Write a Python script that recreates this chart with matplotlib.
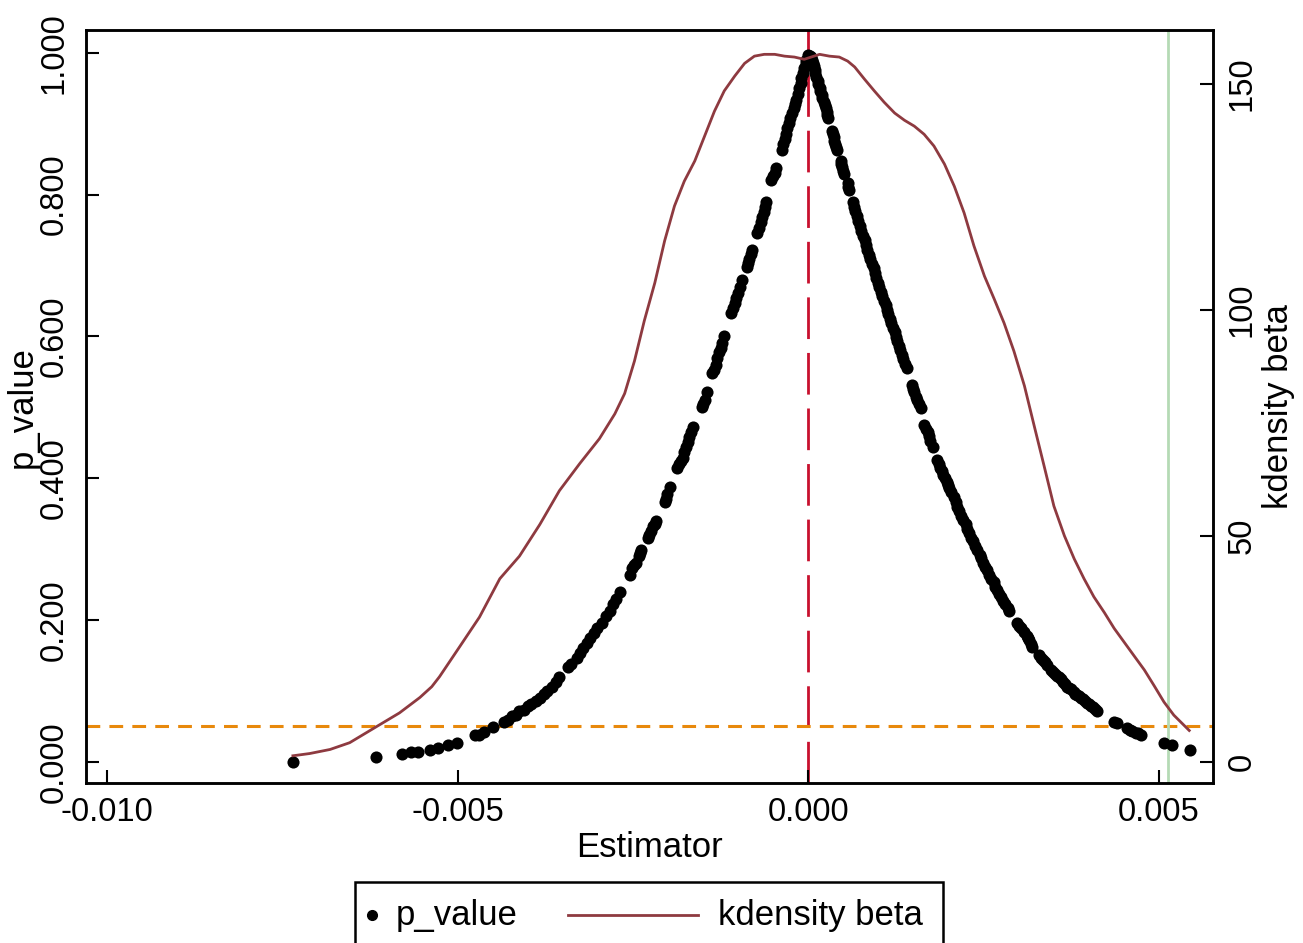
import numpy as np
import matplotlib
matplotlib.use("Agg")
import matplotlib.pyplot as plt
from matplotlib.lines import Line2D
from matplotlib.patches import Rectangle

plt.rcParams['font.family'] = ['Liberation Sans', 'DejaVu Sans']

# placebo estimates and their p-values
beta = [
    -0.00735, -0.00617, -0.00580, -0.00566, -0.00557, -0.00540, -0.00528, -0.00514, -0.00501,
    -0.00476, -0.00470, -0.00462, -0.00449,
    -0.00434, -0.00429, -0.00423, -0.00417, -0.00412, -0.00406, -0.00400, -0.00395, -0.00389,
    -0.00383, -0.00377, -0.00372, -0.00366, -0.00360, -0.00355,
    -0.00343, -0.00339, -0.00330, -0.00326, -0.00321, -0.00316, -0.00311, -0.00306, -0.00302,
    -0.00295, -0.00289, -0.00283, -0.00279, -0.00274, -0.00269,
    -0.00255, -0.00251, -0.00248, -0.00246, -0.00242, -0.00240, -0.00238,
    -0.00229, -0.00227, -0.00225, -0.00221, -0.00219, -0.00217,
    -0.00205, -0.00203, -0.00201, -0.00198,
    -0.00187, -0.00184, -0.00182, -0.00179, -0.00177, -0.00175, -0.00172, -0.00170, -0.00167, -0.00165,
    -0.00152, -0.00150, -0.00148, -0.00145,
    -0.00137, -0.00135, -0.00132, -0.00130, -0.00127, -0.00125, -0.00123, -0.00120,
    -0.00110, -0.00108, -0.00105, -0.00103, -0.00101, -0.00098, -0.00095,
    -0.00088, -0.00086, -0.00084, -0.00082, -0.00080,
    -0.00073, -0.00071, -0.00068, -0.00066, -0.00064, -0.00062, -0.00060,
    -0.00053, -0.00050, -0.00048, -0.00046,
    -0.00038, -0.00036, -0.00034, -0.00032, -0.00030, -0.00028, -0.00026, -0.00023, -0.00021,
    -0.00019, -0.00017, -0.00015, -0.00013, -0.00011, -0.00010, -0.00008, -0.00006, -0.00004,
    -0.00003, 0.00000,
    0.00002, 0.00003, 0.00005, 0.00006, 0.00008, 0.00009, 0.00010, 0.00011, 0.00013, 0.00014,
    0.00016, 0.00017, 0.00019, 0.00020, 0.00022, 0.00023, 0.00025, 0.00026, 0.00027, 0.00028,
    0.00033, 0.00035, 0.00036, 0.00037, 0.00038, 0.00040, 0.00041,
    0.00046, 0.00047, 0.00048, 0.00050, 0.00051,
    0.00056, 0.00057, 0.00058,
    0.00063, 0.00065, 0.00067, 0.00069, 0.00071, 0.00073, 0.00075, 0.00078, 0.00080, 0.00082,
    0.00084, 0.00086, 0.00088, 0.00091, 0.00093, 0.00095, 0.00097, 0.00099, 0.00101,
    0.00103, 0.00105, 0.00108, 0.00110, 0.00112, 0.00114, 0.00116, 0.00118, 0.00121, 0.00123,
    0.00125, 0.00127, 0.00129, 0.00131, 0.00133, 0.00135, 0.00138, 0.00140,
    0.00147, 0.00149, 0.00151, 0.00153, 0.00155, 0.00158, 0.00160,
    0.00165, 0.00168, 0.00170, 0.00172, 0.00174, 0.00177,
    0.00184, 0.00186, 0.00188, 0.00190, 0.00192, 0.00195, 0.00197, 0.00199, 0.00201, 0.00204,
    0.00207, 0.00210, 0.00212, 0.00215, 0.00218, 0.00221, 0.00224, 0.00226, 0.00229,
    0.00232, 0.00235, 0.00238, 0.00241, 0.00244, 0.00246, 0.00249, 0.00252, 0.00255, 0.00258,
    0.00261, 0.00264, 0.00266, 0.00269, 0.00272, 0.00275, 0.00278, 0.00281, 0.00284, 0.00286,
    0.00298, 0.00300, 0.00303, 0.00307, 0.00311, 0.00313, 0.00315, 0.00317, 0.00319,
    0.00329, 0.00332, 0.00335, 0.00337, 0.00340,
    0.00346, 0.00349, 0.00352, 0.00355, 0.00358, 0.00360, 0.00363, 0.00366, 0.00369, 0.00372,
    0.00375, 0.00378, 0.00380, 0.00383, 0.00386, 0.00389, 0.00392, 0.00395, 0.00397, 0.00400,
    0.00403, 0.00406, 0.00409, 0.00412,
    0.00436, 0.00440,
    0.00454, 0.00458, 0.00462, 0.00467, 0.00470, 0.00474,
    0.00507, 0.00519, 0.00544,
]
p_value = [
    0.000, 0.006, 0.011, 0.013, 0.014, 0.017, 0.020, 0.024, 0.027,
    0.037, 0.038, 0.042, 0.049,
    0.056, 0.059, 0.064, 0.066, 0.071, 0.073, 0.078, 0.082, 0.086,
    0.090, 0.096, 0.100, 0.106, 0.113, 0.119,
    0.134, 0.138, 0.147, 0.154, 0.161, 0.167, 0.174, 0.181, 0.188,
    0.196, 0.205, 0.213, 0.222, 0.230, 0.239,
    0.263, 0.273, 0.277, 0.281, 0.290, 0.294, 0.298,
    0.316, 0.320, 0.325, 0.332, 0.336, 0.340,
    0.366, 0.371, 0.377, 0.387,
    0.415, 0.420, 0.424, 0.429, 0.437, 0.444, 0.451, 0.458, 0.465, 0.472,
    0.500, 0.505, 0.510, 0.521,
    0.548, 0.553, 0.559, 0.569, 0.578, 0.584, 0.590, 0.600,
    0.633, 0.640, 0.647, 0.654, 0.661, 0.670, 0.679,
    0.698, 0.703, 0.709, 0.716, 0.722,
    0.746, 0.753, 0.761, 0.768, 0.775, 0.782, 0.790,
    0.821, 0.826, 0.831, 0.838,
    0.863, 0.871, 0.879, 0.886, 0.894, 0.901, 0.908, 0.915, 0.922,
    0.928, 0.934, 0.942, 0.951, 0.958, 0.965, 0.972, 0.979, 0.985,
    0.990, 0.997,
    0.996, 0.994, 0.990, 0.986, 0.981, 0.976, 0.971, 0.966, 0.961, 0.956,
    0.951, 0.946, 0.941, 0.936, 0.931, 0.927, 0.922, 0.917, 0.912, 0.908,
    0.890, 0.885, 0.881, 0.876, 0.871, 0.867, 0.863,
    0.847, 0.843, 0.839, 0.834, 0.829,
    0.816, 0.811, 0.806,
    0.790, 0.783, 0.777, 0.770, 0.763, 0.756, 0.749, 0.742, 0.736, 0.729,
    0.722, 0.715, 0.709, 0.702, 0.696, 0.689, 0.682, 0.676, 0.669,
    0.663, 0.657, 0.650, 0.644, 0.637, 0.631, 0.625, 0.619, 0.612, 0.606,
    0.599, 0.593, 0.587, 0.581, 0.574, 0.568, 0.561, 0.555,
    0.531, 0.526, 0.521, 0.515, 0.510, 0.504, 0.499,
    0.475, 0.470, 0.465, 0.459, 0.453, 0.444,
    0.425, 0.420, 0.415, 0.410, 0.405, 0.400, 0.395, 0.390, 0.386, 0.380,
    0.373, 0.366, 0.360, 0.353, 0.347, 0.341, 0.335, 0.328, 0.322,
    0.316, 0.311, 0.304, 0.298, 0.292, 0.287, 0.281, 0.275, 0.270, 0.264,
    0.258, 0.253, 0.247, 0.242, 0.237, 0.232, 0.227, 0.222, 0.217, 0.213,
    0.196, 0.192, 0.188, 0.183, 0.178, 0.174, 0.171, 0.166, 0.162,
    0.150, 0.147, 0.144, 0.140, 0.137,
    0.130, 0.127, 0.124, 0.121, 0.119, 0.116, 0.113, 0.110, 0.106, 0.104,
    0.102, 0.099, 0.096, 0.094, 0.092, 0.090, 0.088, 0.085, 0.083, 0.081,
    0.079, 0.077, 0.075, 0.072,
    0.056, 0.055,
    0.047, 0.045, 0.044, 0.041, 0.040, 0.038,
    0.027, 0.024, 0.017,
]

# kernel density of the estimates
kd_x = [
    -0.00735, -0.00711, -0.00682, -0.00654, -0.00625, -0.00611, -0.00583, -0.00554, -0.00537,
    -0.00526, -0.00497, -0.00469, -0.00440, -0.00412, -0.00383, -0.00355, -0.00326, -0.00298,
    -0.00276, -0.00262, -0.00248, -0.00234, -0.00219, -0.00205, -0.00191, -0.00177, -0.00162,
    -0.00148, -0.00134, -0.00120, -0.00105, -0.00091, -0.00077, -0.00063, -0.00048, -0.00034,
    -0.00020, -0.00006, 0.00004, 0.00016, 0.00030, 0.00044, 0.00056, 0.00066, 0.00080,
    0.00094, 0.00108, 0.00123, 0.00137, 0.00151, 0.00165, 0.00179, 0.00194, 0.00208,
    0.00222, 0.00236, 0.00251, 0.00265, 0.00279, 0.00293, 0.00308, 0.00322, 0.00336,
    0.00350, 0.00365, 0.00379, 0.00393, 0.00407, 0.00422, 0.00436, 0.00450, 0.00464,
    0.00479, 0.00493, 0.00507, 0.00521, 0.00543,
]
kd_y = [
    1.3, 1.8, 2.7, 4.2, 6.9, 8.2, 10.8, 14.2, 16.6,
    18.8, 25.5, 32.0, 40.5, 45.5, 52.5, 60.0, 66.0, 71.5,
    77.0, 81.5, 88.7, 97.6, 106.0, 115.3, 123.0, 128.5, 133.0,
    138.5, 144.0, 148.5, 151.8, 154.6, 156.2, 156.6, 156.6, 156.2,
    156.0, 155.5, 156.0, 156.6, 156.2, 156.0, 155.1, 153.8, 151.1,
    148.5, 146.0, 143.6, 142.0, 140.7, 138.9, 136.3, 132.3, 127.4,
    121.5, 114.2, 107.5, 102.4, 97.1, 90.9, 83.2, 74.3, 65.5,
    56.6, 50.0, 44.9, 40.5, 36.5, 33.0, 29.5, 26.5, 23.5,
    20.3, 16.8, 13.2, 10.3, 6.9,
]

true_beta = 0.00513
p_cut = 0.05

fig = plt.figure(figsize=(13.03, 9.43), dpi=100)
ax = fig.add_axes([0.066, 0.1697, 0.865, 0.7983])
ax2 = ax.twinx()

ax.scatter(beta, p_value, s=76, color='black', zorder=3, linewidths=0)
ax2.plot(kd_x, kd_y, color='#8E3A40', lw=2.0, zorder=2)

ax.axvline(0, color='#C8102E', lw=2.0, dashes=(15, 5), zorder=1)
ax.axhline(p_cut, color='#E8890C', lw=2.2, dashes=(4.5, 3), zorder=1)
ax.axvline(true_beta, color='#B5DAB5', lw=2.0, zorder=1)

ax.set_xlim(-0.0103, 0.00577)
ax.set_ylim(-0.030, 1.032)
ax2.set_ylim(-4.72, 161.95)

ax.set_xticks([-0.010, -0.005, 0.000, 0.005])
ax.set_xticklabels(['-0.010', '-0.005', '0.000', '0.005'])
ax.set_yticks([0, 0.2, 0.4, 0.6, 0.8, 1.0])
ax.set_yticklabels(['0.000', '0.200', '0.400', '0.600', '0.800', '1.000'], rotation=90, va='center')
ax2.set_yticks([0, 50, 100, 150])
ax2.set_yticklabels(['0', '50', '100', '150'], rotation=90, va='center')

for a in (ax, ax2):
    a.tick_params(direction='in', length=9.5, width=1.5, labelsize=23.5, colors='black')
    for s in a.spines.values():
        s.set_linewidth(1.8)
ax.tick_params(axis='x', pad=10)
ax.tick_params(axis='y', pad=12)
ax2.tick_params(axis='y', pad=10)

ax.set_xlabel('Estimator', fontsize=25, labelpad=2)
ax.set_ylabel('p_value', fontsize=25, labelpad=0)
ax2.set_ylabel('kdensity beta', fontsize=25, labelpad=3)

# legend box at the bottom (cut by the figure edge as in the reference)
W, H = 1303.0, 943.0
fig.patches.append(Rectangle((355 / W, -0.05), 588 / W, 0.05 + 1 - 882 / H,
                             transform=fig.transFigure, fill=False, lw=1.8, ec='black'))
ly = 1 - 915 / H
fig.lines.append(Line2D([372 / W], [ly], transform=fig.transFigure, marker='o',
                        ms=7, color='black', ls='none'))
fig.text(396 / W, ly, 'p_value', fontsize=25, va='center', ha='left')
fig.lines.append(Line2D([568 / W, 698 / W], [ly, ly], transform=fig.transFigure,
                        color='#8E3A40', lw=2.0))
fig.text(718 / W, ly, 'kdensity beta', fontsize=25, va='center', ha='left')

fig.savefig('out.png', dpi=100)
